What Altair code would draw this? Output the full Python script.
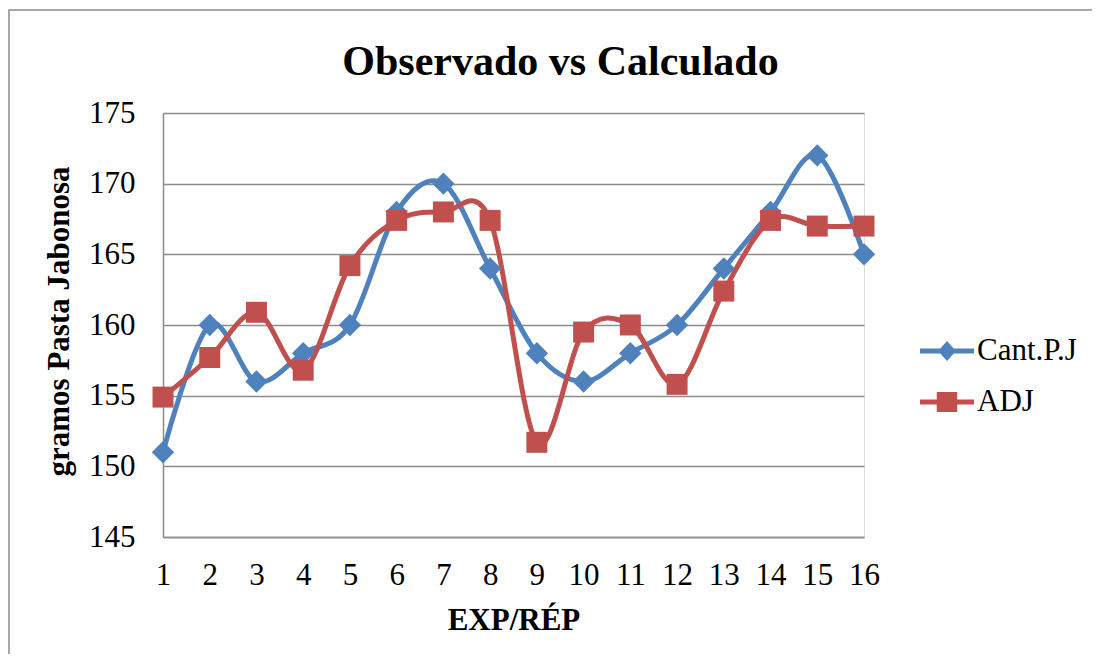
import altair as alt
import pandas as pd

exp = list(range(1, 17))
cant_pj = [151, 160, 156, 158, 160, 168, 170, 164, 158, 156, 158, 160, 164, 168, 172, 165]
adj = [154.9, 157.7, 160.9, 156.8, 164.2, 167.4, 168.0, 167.4, 151.7, 159.5, 160.0, 155.8, 162.4, 167.4, 167.0, 167.0]
series_names = ["Cant.P.J", "ADJ"]
colors = ["#4F81BD", "#C0504D"]
y_ticks = [145, 150, 155, 160, 165, 170, 175]

rows = []
for name, vals in zip(series_names, [cant_pj, adj]):
    for e, v in zip(exp, vals):
        rows.append({"exp": e, "value": v, "series": name})
df = pd.DataFrame(rows)

FONT = "Liberation Serif"
GRID = "#8c8c8c"

# legend symbols: a thick line with the marker in the middle
diamond_path = "M-1.08,-0.1H1.08V0.1H-1.08Z M0,-0.4L0.36,0L0,0.4L-0.36,0Z"
square_path = "M-1.08,-0.1H1.08V0.1H-1.08Z M-0.41,-0.4H0.41V0.4H-0.41Z"

color_scale = alt.Scale(domain=series_names, range=colors)
x_enc = alt.X("exp:Q", scale=alt.Scale(domain=[1, 16], nice=False, zero=False),
              axis=alt.Axis(values=exp, format="d", title="EXP/RÉP", grid=False,
                            tickSize=0, labelPadding=23, domainColor=GRID, domainWidth=1.5,
                            labelFont=FONT, labelFontSize=31, labelColor="black",
                            titleFont=FONT, titleFontSize=31, titleFontWeight="bold",
                            titleColor="black", titleBaseline="alphabetic", titleY=92,
                            labelFlush=False))
y_enc = alt.Y("value:Q", scale=alt.Scale(domain=[145, 175], nice=False, zero=False),
              axis=alt.Axis(values=y_ticks, title="gramos Pasta Jabonosa", grid=True,
                            gridColor=GRID, gridWidth=1.5, tickSize=0, labelPadding=28,
                            domainColor=GRID, domainWidth=1.5,
                            labelFont=FONT, labelFontSize=31, labelColor="black",
                            titleFont=FONT, titleFontSize=31, titleFontWeight="bold",
                            titleColor="black", titleBaseline="alphabetic",
                            titleX=-95, titleY=208, titleAngle=270, titleAlign="center",
                            labelFlush=False))

base = alt.Chart(df)

leg = alt.Legend(title=None, orient="none", legendX=759, legendY=213,
                 symbolSize=2500, symbolStrokeWidth=0, symbolOpacity=1,
                 labelFont=FONT, labelFontSize=31, labelColor="black",
                 labelOffset=5, rowPadding=11, padding=0)

# legend-only layer (first, so its legend settings win): entries come from the explicit scale domain
legend_layer = base.transform_filter("false").mark_point(filled=True, opacity=1).encode(
    x=x_enc, y=y_enc,
    color=alt.Color("series:N", scale=color_scale, legend=leg),
    shape=alt.Shape("series:N", scale=alt.Scale(domain=series_names, range=[diamond_path, square_path]),
                    legend=leg),
)

border = alt.Chart(pd.DataFrame({"b": [0]})).mark_rect(
    fill=None, stroke="#8c8c8c", strokeWidth=1.5
).encode(x=alt.value(-154), x2=alt.value(930), y=alt.value(-103), y2=alt.value(600))

lines = base.mark_line(interpolate="cardinal", strokeWidth=5).encode(
    x=x_enc, y=y_enc,
    color=alt.Color("series:N", scale=color_scale, legend=None),
    detail="series:N",
)

diamonds = base.transform_filter(alt.datum.series == series_names[0]).mark_point(
    filled=True, opacity=1, shape="diamond", size=500
).encode(x=x_enc, y=y_enc, color=alt.Color("series:N", scale=color_scale, legend=None))

squares = base.transform_filter(alt.datum.series == series_names[1]).mark_point(
    filled=True, opacity=1, shape="square", size=440
).encode(x=x_enc, y=y_enc, color=alt.Color("series:N", scale=color_scale, legend=None))

chart = alt.layer(legend_layer, border, lines, diamonds, squares).properties(
    width=701, height=424,
    title=alt.TitleParams("Observado vs Calculado", font=FONT, fontSize=42, fontWeight="bold",
                          color="black", anchor="middle", frame="group", dx=47, dy=108,
                          baseline="alphabetic", offset=0),
    autosize=alt.AutoSizeParams(type="none"),
    padding={"left": 155, "top": 105, "right": 228, "bottom": 117},
).configure_view(stroke=None).configure(background="white")

chart.save("out.html", embed_options={"renderer": "svg", "actions": False})
